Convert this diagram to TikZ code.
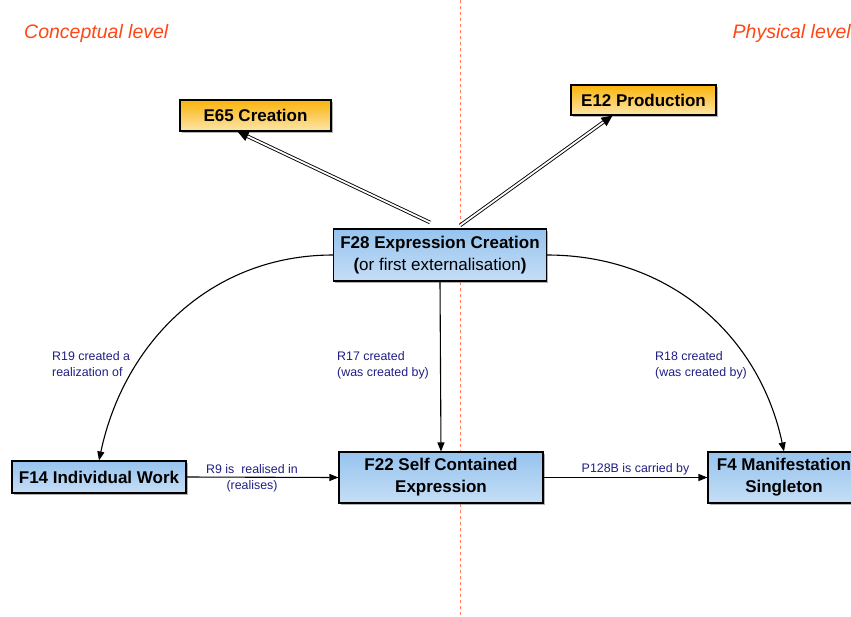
\documentclass[tikz,border=0pt]{standalone}
\usepackage{fontspec}
\setmainfont{Liberation Sans}
\usetikzlibrary{arrows.meta,shadows}

\definecolor{lvlred}{RGB}{255,70,20}
\definecolor{relblue}{RGB}{30,30,130}
\definecolor{boxblue}{RGB}{150,195,238}
\definecolor{boxorange}{RGB}{250,180,10}

\tikzset{
    cls/.style={draw=black, line width=1.1pt, align=center, inner sep=2pt,
        font=\fontsize{17}{22}\selectfont\bfseries,
        top color=boxblue, middle color=boxblue!20, bottom color=boxblue!55,
        drop shadow={opacity=0.6, shadow xshift=1.5pt, shadow yshift=-1.5pt}},
    evt/.style={cls, top color=boxorange, middle color=boxorange!8, bottom color=boxorange!35},
    rel/.style={font=\fontsize{12.4}{16}\selectfont, text=relblue, align=left, inner sep=0pt},
    lvl/.style={font=\fontsize{19.5}{22}\selectfont\itshape, text=lvlred, inner sep=0pt},
    link/.style={line width=1.1pt, -{Triangle[length=9pt,width=7pt]}},
    isa/.style={line width=0.9pt, double, double distance=1.8pt, -{Triangle[length=11pt,width=10pt]}}
}

\begin{document}
\begin{tikzpicture}[x=1pt,y=1pt]
        \def\split{460}
        \useasboundingbox (0,0) rectangle (851,-616);

        \draw[lvlred!70, dashed, line width=0.9pt] (\split,0) -- (\split,-616);
        \node[lvl, anchor=west] (conc) at (24,-33) {Conceptual level};
        \node[lvl, anchor=east] (phys) at (851,-33) {Physical level};

        \node[evt, minimum width=151, minimum height=31] (e65) at (255.5,-115.5) {E65 Creation};
        \node[evt, minimum width=145, minimum height=30] (e12) at (643.5,-100) {E12 Production};
        \node[cls, minimum width=213, minimum height=52] (f28) at (440,-255)
            {F28 Expression Creation\\\textbf{(}\mdseries or first externalisation\textbf{)}};
        \node[cls, minimum width=174, minimum height=32] (f14) at (99,-477) {F14 Individual Work};
        \node[cls, minimum width=204, minimum height=51] (f22) at (441,-477.5) {F22 Self Contained\\Expression};
        \node[cls, minimum width=152, minimum height=51] (f4) at (784,-477.5) {F4 Manifestation\\Singleton};

        \draw[isa] ([xshift=-10pt,yshift=6pt]f28.north) -- ([xshift=-18pt]e65.south);
        \draw[isa] ([xshift=20pt,yshift=3pt]f28.north) -- ([xshift=-31pt]e12.south);

        \draw[link] (f28.west) to[out=180,in=78] (f14.north);
        \draw[link] (f28.east) to[out=0,in=102] (f4.north);
        \draw[link] (f28.south) -- (f22.north);
        \draw[link] (f14.east) -- (f22.west);
        \draw[link] (f22.east) -- (f4.west);

        \node[rel, anchor=north west] (r19) at (52,-351) {R19 created a\\realization of};
        \node[rel, anchor=north west] (r17) at (337,-351) {R17 created\\(was created by)};
        \node[rel, anchor=north west] (r18) at (655,-351) {R18 created\\(was created by)};
        \node[rel, align=center, anchor=north] (r9) at (252,-464) {R9 is~~realised in\\(realises)};
        \node[rel, anchor=south] (p128) at (635.5,-475) {P128B is carried by};
\end{tikzpicture}
\end{document}
